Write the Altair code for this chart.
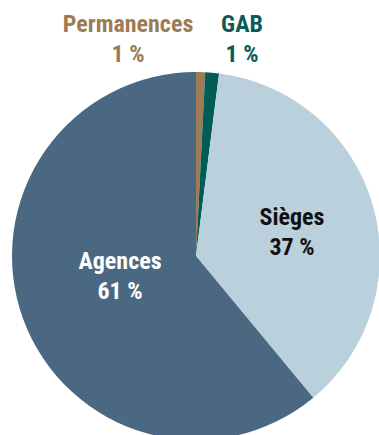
import altair as alt
import pandas as pd

categories = ["Permanences", "GAB", "Sièges", "Agences"]
values = [0.8, 1.2, 37.0, 61.0]
labels = ["1 %", "1 %", "37 %", "61 %"]
colors = ["#9c7b55", "#005c57", "#bad0dc", "#4b6883"]
text_colors = ["#9c7b55", "#0b5a55", "#111111", "#ffffff"]

df = pd.DataFrame({"cat": categories, "val": values, "ord": list(range(len(categories)))})

pie = alt.Chart(df).mark_arc(radius=184, stroke=None).encode(
    theta=alt.Theta("val:Q", stack=True),
    order=alt.Order("ord:Q"),
    color=alt.Color("cat:N", scale=alt.Scale(domain=categories, range=colors), legend=None),
    x=alt.value(196),
    y=alt.value(256),
)

label_pos = {
    "Permanences": (128, 25),
    "GAB": (242, 25),
    "Sièges": (292, 218),
    "Agences": (120, 262),
}

layers = [pie]
for cat, lab, tc in zip(categories, labels, text_colors):
    px, py = label_pos[cat]
    tdf = pd.DataFrame({"t": [cat + "\n" + lab]})
    layers.append(
        alt.Chart(tdf).mark_text(
            x=px, y=py, font="Roboto Condensed, DejaVu Sans Condensed, Roboto, sans-serif",
            fontWeight="bold",
            fontSize=24, lineHeight=30, lineBreak="\n", color=tc,
            baseline="middle", align="center",
        ).encode(text="t:N")
    )

chart = alt.layer(*layers).properties(
    width=379, height=435, padding=0, autosize=alt.AutoSizeParams(type="none")
).configure_view(stroke=None)

chart.save("out.html", embed_options={"renderer": "svg", "actions": False})
